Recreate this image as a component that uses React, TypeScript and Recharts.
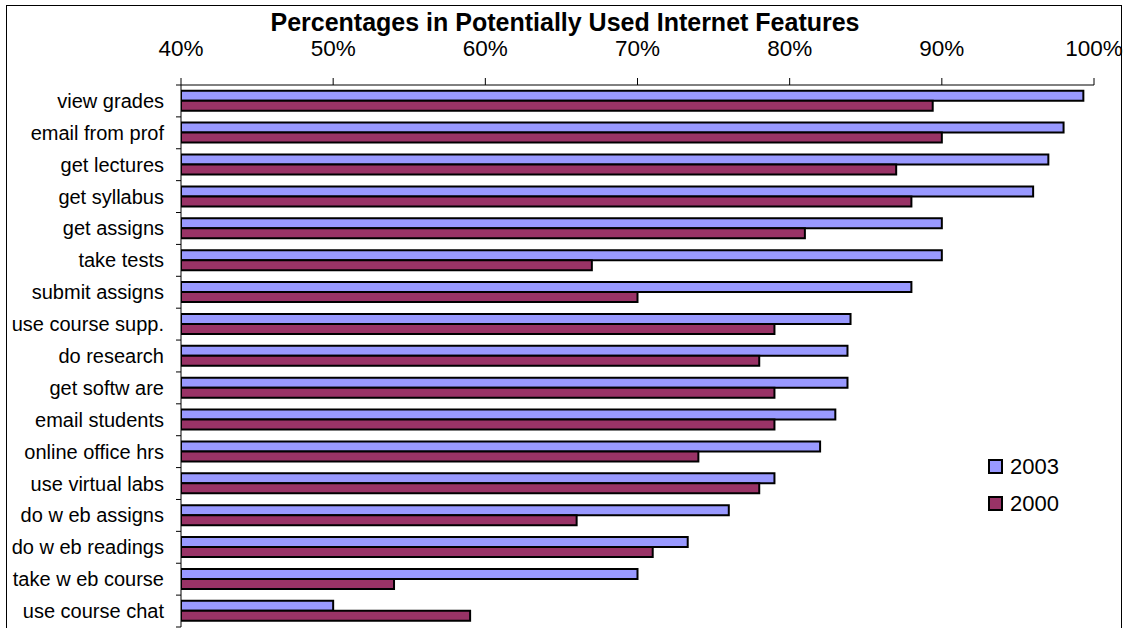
import { BarChart, Bar, XAxis, YAxis, Legend } from "recharts";

const categories = [
  "view grades",
  "email from prof",
  "get lectures",
  "get syllabus",
  "get assigns",
  "take tests",
  "submit assigns",
  "use course supp.",
  "do research",
  "get softw are",
  "email students",
  "online office hrs",
  "use virtual labs",
  "do w eb assigns",
  "do w eb readings",
  "take w eb course",
  "use course chat",
];
const values2003 = [99.3, 98, 97, 96, 90, 90, 88, 84, 83.8, 83.8, 83, 82, 79, 76, 73.3, 70, 50];
const values2000 = [89.4, 90, 87, 88, 81, 67, 70, 79, 78, 79, 79, 74, 78, 66, 71, 54, 59];
const seriesNames = ["2003", "2000"];
const xTicks = [40, 50, 60, 70, 80, 90, 100];

const FONT = "'Liberation Sans', Arial, sans-serif";
const C2003 = "#9999ff";
const C2000 = "#993366";

const data = categories.map((name, i) => ({
  name,
  y2003: values2003[i],
  y2000: values2000[i],
}));

function CategoryTick(props: any) {
  const { x, y, payload, index } = props;
  const half = payload.offset ?? 0;
  return (
    <g>
      <text x={x} y={y} dy={7} textAnchor="end" fontSize={20} fontFamily={FONT} fill="#000">
        {payload.value}
      </text>
      <line x1={x + 12} x2={x + 17} y1={y + half} y2={y + half} stroke="#000" />
      {index === 0 && <line x1={x + 12} x2={x + 17} y1={y - half} y2={y - half} stroke="#000" />}
    </g>
  );
}

function LegendBox(props: any) {
  const items = [...(props.payload || [])].sort(
    (a: any, b: any) => seriesNames.indexOf(a.value) - seriesNames.indexOf(b.value)
  );
  return (
    <div style={{ fontFamily: FONT, fontSize: 22 }}>
      {items.map((it: any) => (
        <div key={it.value} style={{ display: "flex", alignItems: "center", height: 37 }}>
          <span
            style={{
              display: "inline-block",
              width: 11,
              height: 11,
              background: it.color,
              border: "2px solid #000",
              marginRight: 7,
            }}
          />
          <span>{it.value}</span>
        </div>
      ))}
    </div>
  );
}

export default function App() {
  return (
    <div style={{ position: "absolute", left: 0, top: 0, width: 1127, height: 628, overflow: "hidden", background: "#fff" }}>
      <style>{`body{margin:0;overflow:hidden}`}</style>
      <div
        style={{
          position: "absolute",
          left: 6,
          top: 5,
          width: 1114,
          height: 700,
          border: "1px solid #000",
        }}
      />
      <div
        style={{
          position: "absolute",
          left: 0,
          top: 8,
          width: 1130,
          textAlign: "center",
          fontFamily: FONT,
          fontWeight: "bold",
          fontSize: 25,
        }}
      >
        Percentages in Potentially Used Internet Features
      </div>
      <div style={{ position: "absolute", left: 0, top: 0 }}>
        <BarChart
          width={1127}
          height={628}
          data={data}
          layout="vertical"
          margin={{ top: 84, right: 33, bottom: 1, left: 0 }}
          barCategoryGap="18%"
          barGap={0}
        >
          <XAxis
            type="number"
            orientation="top"
            domain={[40, 100]}
            ticks={xTicks}
            allowDataOverflow
            tickFormatter={(v: number) => `${v}%`}
            axisLine={{ stroke: "#000" }}
            tickLine={{ stroke: "#000" }}
            tickSize={7}
            tickMargin={22}
            tick={{ fill: "#000", fontSize: 22.5, fontFamily: FONT }}
            height={1}
          />
          <YAxis
            type="category"
            dataKey="name"
            width={181}
            axisLine={{ stroke: "#000" }}
            tickLine={false}
            tickSize={0}
            tickMargin={17}
            interval={0}
            tick={<CategoryTick />}
          />
          <Legend
            layout="horizontal"
            align="center"
            verticalAlign="middle"
            wrapperStyle={{ left: 988, top: 448, width: 120 }}
            content={<LegendBox />}
          />
          <Bar dataKey="y2003" name="2003" fill={C2003} stroke="#000" strokeWidth={2} isAnimationActive={false} />
          <Bar dataKey="y2000" name="2000" fill={C2000} stroke="#000" strokeWidth={2} isAnimationActive={false} />
        </BarChart>
      </div>
    </div>
  );
}
